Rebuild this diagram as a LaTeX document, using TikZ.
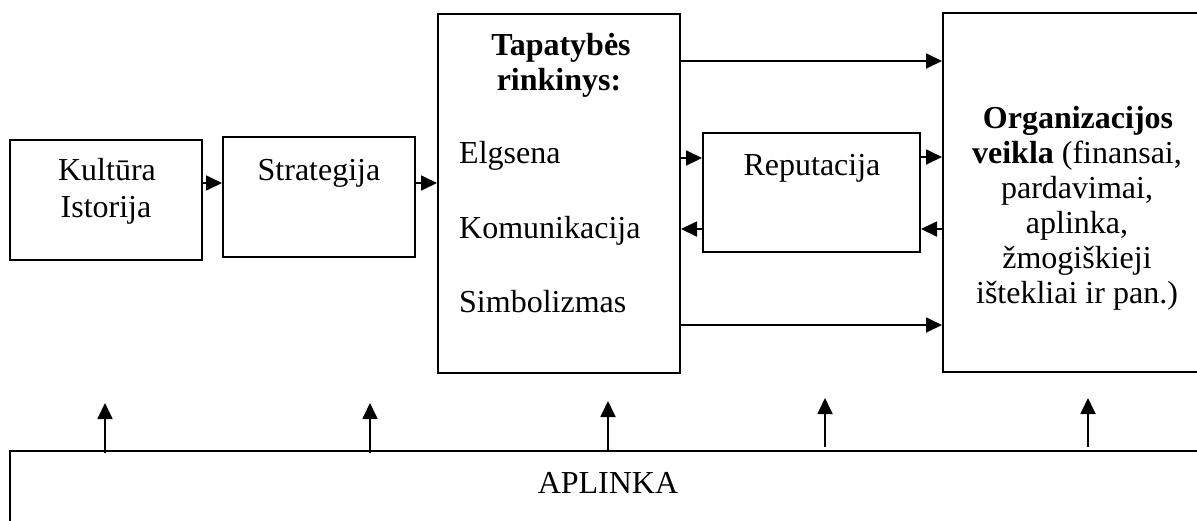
\documentclass[tikz,border=0pt]{standalone}
\usepackage{fontspec}
\setmainfont{Liberation Serif}
\usetikzlibrary{arrows.meta}
\begin{document}
\begin{tikzpicture}[x=1pt,y=-1pt,
  box/.style={draw,line width=2pt,rectangle,inner sep=0pt},
  lbl/.style={inner sep=0pt,anchor=base,font=\fontsize{32}{36}\selectfont},
  lblb/.style={lbl,font=\fontsize{32}{36}\selectfont\bfseries},
  arr/.style={line width=1.8pt,-{Triangle[length=16pt,width=15pt]}}]
\path[use as bounding box] (0,0) rectangle (1197,520);
\clip (0,0) rectangle (1197,520);

% boxes
\node[box,minimum width=192,minimum height=120] (kult) at (106,200) {};
\node[box,minimum width=192,minimum height=120] (strat) at (319,197) {};
\node[box,minimum width=242,minimum height=359] (tap) at (559,193.5) {};
\node[box,minimum width=217,minimum height=119] (rep) at (811.5,192.5) {};
\node[box,minimum width=268,minimum height=359] (org) at (1077,192.5) {};
\node[box,minimum width=1200,minimum height=149] (apl) at (610,525.5) {};

% labels
\node[lbl] (t1) at (107,180) {Kultūra};
\node[lbl] (t2) at (106,217) {Istorija};
\node[lbl] (t3) at (319,180) {Strategija};
\node[lblb] (t4) at (561,55) {Tapatybės};
\node[lblb] (t5) at (559,90) {rinkinys:};
\node[lbl,anchor=base west] (t6) at (459,163) {Elgsena};
\node[lbl,anchor=base west] (t7) at (459,238) {Komunikacija};
\node[lbl,anchor=base west] (t8) at (459,312) {Simbolizmas};
\node[lbl] (t9) at (812,175) {Reputacija};
\node[lblb] (o1) at (1078,128) {Organizacijos};
\node[lbl] (o2) at (1077,163) {\textbf{veikla} (finansai,};
\node[lbl] (o3) at (1077,198) {pardavimai,};
\node[lbl] (o4) at (1077,233) {aplinka,};
\node[lbl] (o5) at (1077,268) {žmogiškieji};
\node[lbl] (o6) at (1077,303) {ištekliai ir pan.)};
\node[lbl] (a1) at (608,493) {APLINKA};

% horizontal connectors
\coordinate (k1) at ([yshift=17pt]kult.east);
\draw[arr] (k1) -- (k1 -| strat.west);
\coordinate (s1) at ([yshift=14pt]strat.east);
\draw[arr] (s1) -- (s1 -| tap.west);
\coordinate (p1) at ([yshift=132.5pt]tap.east);
\draw[arr] (p1) -- (p1 -| org.west);
\coordinate (p2) at ([yshift=-131.5pt]tap.east);
\draw[arr] (p2) -- (p2 -| org.west);
\coordinate (p3) at ([yshift=35.5pt]tap.east);
\draw[arr] (p3) -- (p3 -| rep.west);
\coordinate (r1) at ([yshift=35.5pt]rep.east);
\draw[arr] (r1) -- (r1 -| org.west);
\coordinate (r2) at ([yshift=-36.5pt]org.west);
\draw[arr] (r2) -- (r2 -| rep.east);
\coordinate (r3) at ([yshift=-36.5pt]rep.west);
\draw[arr] (r3) -- (r3 -| tap.east);

% arrows rising from the environment box
\coordinate (u1) at (105,453);
\coordinate (v1) at (105,403);
\coordinate (u2) at (370,453);
\coordinate (v2) at (370,403);
\coordinate (u3) at (608,450);
\coordinate (v3) at (608,401);
\coordinate (u4) at (825,447);
\coordinate (v4) at (825,398);
\coordinate (u5) at (1088,447);
\coordinate (v5) at (1088,398);
\foreach \i in {1,...,5} \draw[arr] (u\i) -- (v\i);
\end{tikzpicture}
\end{document}
